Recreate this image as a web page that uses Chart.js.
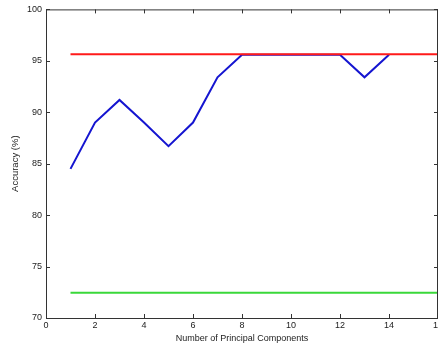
<!DOCTYPE html>
<html>
<head>
<meta charset="utf-8">
<script src="https://cdn.jsdelivr.net/npm/chart.js@4.4.0/dist/chart.umd.min.js"></script>
<style>
  html, body { margin: 0; padding: 0; background: #fff; overflow: hidden; }
  #wrap { width: 438px; height: 347px; overflow: hidden; }
</style>
</head>
<body>
<div id="wrap"><canvas id="pca-chart" width="460" height="347"></canvas></div>
<script>
// values
const components = [1, 2, 3, 4, 5, 6, 7, 8, 9, 10, 11, 12, 13, 14];
const accuracy = [84.5, 89.0, 91.2, 89.0, 86.7, 89.0, 93.4, 95.6, 95.6, 95.6, 95.6, 95.6, 93.4, 95.6];
const refX = [1, 16];
const upperRef = [95.65, 95.65];
const lowerRef = [72.45, 72.45];
const xTicks = [0, 2, 4, 6, 8, 10, 12, 14, 16];
const yTicks = [70, 75, 80, 85, 90, 95, 100];

const pts = (xs, ys) => xs.map((x, i) => ({ x: x, y: ys[i] }));

// matlab style box with inward tick marks
const boxTicks = {
    id: 'boxTicks',
    afterDraw(chart) {
        const ctx = chart.ctx;
        const a = chart.chartArea;
        const xs = chart.scales.x;
        const ys = chart.scales.y;
        const len = 4;
        ctx.save();
        ctx.strokeStyle = '#333';
        ctx.lineWidth = 1;
        ctx.beginPath();
        ctx.moveTo(a.left, a.top + 0.5);
        ctx.lineTo(a.right, a.top + 0.5);
        ctx.moveTo(a.right - 0.5, a.top);
        ctx.lineTo(a.right - 0.5, a.bottom);
        xTicks.forEach(v => {
            const px = Math.round(xs.getPixelForValue(v)) + 0.5;
            ctx.moveTo(px, a.bottom);
            ctx.lineTo(px, a.bottom - len);
            ctx.moveTo(px, a.top);
            ctx.lineTo(px, a.top + len);
        });
        yTicks.forEach(v => {
            const py = Math.round(ys.getPixelForValue(v)) + 0.5;
            ctx.moveTo(a.left, py);
            ctx.lineTo(a.left + len, py);
            ctx.moveTo(a.right, py);
            ctx.lineTo(a.right - len, py);
        });
        ctx.stroke();
        ctx.restore();
    }
};

const font = { family: 'Liberation Sans, Arial, sans-serif', size: 9 };

new Chart(document.getElementById('pca-chart'), {
    type: 'line',
    data: {
        datasets: [{
            label: 'Accuracy',
            data: pts(components, accuracy),
            borderColor: '#1515d0',
            borderWidth: 2,
            pointRadius: 0,
            tension: 0,
            order: 1
        }, {
            label: 'Upper',
            data: pts(refX, upperRef),
            borderColor: '#ff1a1a',
            borderWidth: 2,
            pointRadius: 0,
            order: 0
        }, {
            label: 'Lower',
            data: pts(refX, lowerRef),
            borderColor: '#3ad83a',
            borderWidth: 2,
            pointRadius: 0,
            order: 0
        }]
    },
    options: {
        responsive: false,
        animation: false,
        layout: { padding: { top: 8, right: 22, left: 0, bottom: 0 } },
        plugins: { legend: { display: false }, tooltip: { enabled: false } },
        scales: {
            x: {
                type: 'linear',
                min: 0,
                max: 16,
                afterFit(scale) { scale.height = 29; },
                afterBuildTicks(scale) { scale.ticks = xTicks.map(v => ({ value: v })); },
                grid: { display: false, drawTicks: false },
                border: { display: true, color: '#333', width: 1 },
                ticks: { color: '#222', font: font, padding: 2, maxRotation: 0 },
                title: {
                    display: true,
                    text: 'Number of Principal Components',
                    color: '#222',
                    font: font,
                    padding: { top: 0, bottom: 3 }
                }
            },
            y: {
                min: 70,
                max: 100,
                afterFit(scale) { scale.width = 46; },
                afterBuildTicks(scale) { scale.ticks = yTicks.map(v => ({ value: v })); },
                grid: { display: false, drawTicks: false },
                border: { display: true, color: '#333', width: 1 },
                ticks: { color: '#222', font: font, padding: 4 },
                title: {
                    display: true,
                    text: 'Accuracy (%)',
                    color: '#222',
                    font: { family: font.family, size: 9.5 },
                    padding: { top: 10, bottom: 0 }
                }
            }
        }
    },
    plugins: [boxTicks]
});
</script>
</body>
</html>
